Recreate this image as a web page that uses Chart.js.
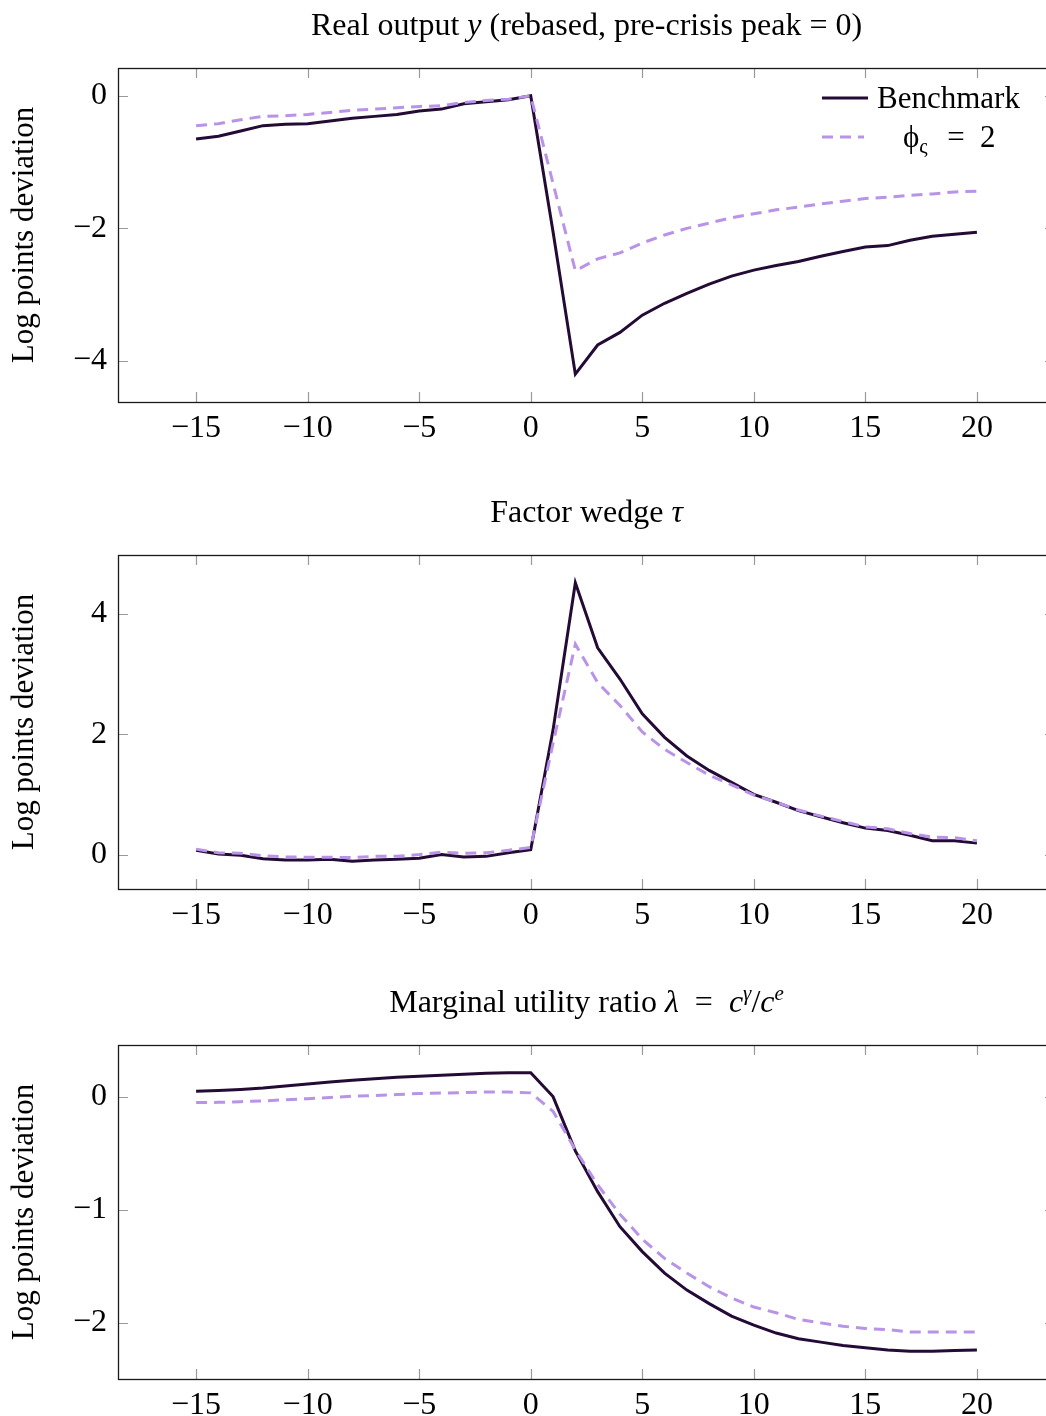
<!DOCTYPE html>
<html>
<head>
<meta charset="utf-8">
<script src="https://cdn.jsdelivr.net/npm/chart.js@4.4.1/dist/chart.umd.min.js"></script>
<style>
  html, body { margin: 0; padding: 0; width: 1046px; height: 1416px; overflow: hidden; background: #fff; }
  canvas { position: absolute; left: 0; }
</style>
</head>
<body>
<canvas id="c1" width="1060" height="488" style="top:0px"></canvas>
<canvas id="c2" width="1060" height="488" style="top:487px"></canvas>
<canvas id="c3" width="1060" height="488" style="top:977px"></canvas>
<script>
// quarters relative to the pre-crisis peak
const periods = [-15, -14, -13, -12, -11, -10, -9, -8, -7, -6, -5, -4, -3, -2, -1, 0,
                 1, 2, 3, 4, 5, 6, 7, 8, 9, 10, 11, 12, 13, 14, 15, 16, 17, 18, 19, 20]
const xTicks = [-15, -10, -5, 0, 5, 10, 15, 20]

// Real output y
const outputBench = [-0.65, -0.61, -0.53, -0.45, -0.43, -0.42, -0.38, -0.34, -0.31, -0.28, -0.23, -0.20, -0.12, -0.09, -0.06, 0,
                     -2.05, -4.20, -3.76, -3.57, -3.31, -3.13, -2.98, -2.84, -2.72, -2.63, -2.56, -2.50, -2.42, -2.35, -2.28, -2.26, -2.18, -2.12, -2.09, -2.06]
const outputPhi = [-0.45, -0.42, -0.36, -0.31, -0.30, -0.28, -0.25, -0.22, -0.20, -0.18, -0.16, -0.15, -0.10, -0.07, -0.05, 0,
                   -1.32, -2.64, -2.46, -2.37, -2.22, -2.10, -2.00, -1.92, -1.84, -1.78, -1.72, -1.68, -1.63, -1.59, -1.55, -1.53, -1.50, -1.48, -1.45, -1.44]
const outputTicks = [-4, -2, 0]

// Factor wedge tau
const wedgeBench = [0.07, 0.01, -0.01, -0.07, -0.09, -0.09, -0.08, -0.11, -0.09, -0.08, -0.06, 0.00, -0.04, -0.03, 0.03, 0.08,
                    2.07, 4.52, 3.44, 2.92, 2.34, 1.95, 1.64, 1.40, 1.20, 1.00, 0.87, 0.73, 0.63, 0.53, 0.44, 0.40, 0.32, 0.23, 0.23, 0.19]
const wedgePhi = [0.09, 0.03, 0.02, -0.02, -0.04, -0.045, -0.045, -0.05, -0.03, -0.03, 0.00, 0.04, 0.02, 0.03, 0.07, 0.12,
                  1.85, 3.50, 2.86, 2.48, 2.04, 1.75, 1.53, 1.32, 1.16, 0.99, 0.87, 0.74, 0.64, 0.55, 0.46, 0.43, 0.35, 0.29, 0.28, 0.23]
const wedgeTicks = [0, 2, 4]

// Marginal utility ratio lambda
const lambdaBench = [0.047, 0.053, 0.062, 0.075, 0.094, 0.112, 0.128, 0.145, 0.158, 0.170, 0.180, 0.188, 0.197, 0.207, 0.210, 0.210,
                     0.00, -0.48, -0.84, -1.15, -1.37, -1.56, -1.71, -1.83, -1.94, -2.02, -2.09, -2.14, -2.17, -2.20, -2.22, -2.24, -2.25, -2.25, -2.245, -2.24]
const lambdaPhi = [-0.053, -0.051, -0.045, -0.038, -0.028, -0.018, -0.008, 0.003, 0.010, 0.018, 0.027, 0.031, 0.036, 0.041, 0.040, 0.033,
                   -0.13, -0.47, -0.78, -1.04, -1.26, -1.43, -1.56, -1.68, -1.78, -1.86, -1.91, -1.97, -2.00, -2.03, -2.05, -2.06, -2.08, -2.08, -2.08, -2.08]
const lambdaTicks = [-2, -1, 0]

const seriesNames = ['Benchmark', 'ϕς = 2']
const darkColor = '#230b35'
const lightColor = '#b993e8'
const serif = '"Liberation Serif", "DejaVu Serif", serif'

const fmt = v => v < 0 ? '\u2212' + Math.abs(v) : String(v)

// pgfplots style: 10% padding around the data
function enlarge(a, b) {
    const all = a.concat(b)
    const lo = Math.min(...all), hi = Math.max(...all)
    const pad = (hi - lo) * 0.1
    return [lo - pad, hi + pad]
}

const framePlugin = {
    id: 'frame',
    afterDraw(chart, args, opts) {
        const ctx = chart.ctx
        const {left, right, top, bottom} = chart.chartArea
        const xs = chart.scales.x, ys = chart.scales.y
        ctx.save()
        // inner tick marks on all four sides
        ctx.strokeStyle = '#9a9a9a'
        ctx.lineWidth = 1.2
        ctx.beginPath()
        xs.ticks.forEach(t => {
            const px = Math.round(xs.getPixelForValue(t.value)) + 0.5
            ctx.moveTo(px, top); ctx.lineTo(px, top + 10)
            ctx.moveTo(px, bottom); ctx.lineTo(px, bottom - 10)
        })
        ys.ticks.forEach(t => {
            const py = Math.round(ys.getPixelForValue(t.value)) + 0.5
            ctx.moveTo(left, py); ctx.lineTo(left + 10, py)
            ctx.moveTo(right, py); ctx.lineTo(right - 10, py)
        })
        ctx.stroke()
        ctx.strokeStyle = '#1a1a1a'
        ctx.lineWidth = 1.3
        ctx.strokeRect(left + 0.5, top + 0.5, right - left, bottom - top)

        // title with math parts
        const parts = opts.title || []
        const fontFor = p => (p.it ? 'italic ' : '') + (p.sup ? 21 : 32) + 'px ' + serif
        let w = 0
        parts.forEach(p => { ctx.font = fontFor(p); w += ctx.measureText(p.t).width })
        let x = (left + right) / 2 - w / 2
        const base = 35
        ctx.fillStyle = '#000'
        ctx.textBaseline = 'alphabetic'
        ctx.textAlign = 'left'
        parts.forEach(p => {
            ctx.font = fontFor(p)
            ctx.fillText(p.t, x, p.sup ? base - 12 : base)
            x += ctx.measureText(p.t).width
        })

        // legend inside the top right corner
        if (opts.legend) {
            const ds = chart.data.datasets
            const sx = right - 233
            ctx.lineWidth = 3
            ctx.strokeStyle = ds[0].borderColor
            ctx.setLineDash([])
            ctx.beginPath(); ctx.moveTo(sx, 98); ctx.lineTo(sx + 46, 98); ctx.stroke()
            ctx.strokeStyle = ds[1].borderColor
            ctx.setLineDash(ds[1].borderDash)
            ctx.beginPath(); ctx.moveTo(sx, 137); ctx.lineTo(sx + 42, 137); ctx.stroke()
            ctx.setLineDash([])
            ctx.font = '31px ' + serif
            ctx.fillText(ds[0].label, sx + 55, 108)
            // phi with subscript varsigma
            const lbl = ds[1].label
            let lx = sx + 81
            ctx.fillText(lbl[0], lx, 147)
            lx += ctx.measureText(lbl[0]).width
            ctx.font = '21px ' + serif
            ctx.fillText(lbl[1], lx, 153)
            lx += ctx.measureText(lbl[1]).width + 4
            ctx.font = '31px ' + serif
            ctx.fillText(lbl.slice(2).replace(/ /g, '\u2002'), lx, 147)
        }
        ctx.restore()
    }
}

function makeChart(id, bench, alt, yTicks, title, legend) {
    const [ymin, ymax] = enlarge(bench, alt)
    const canvas = document.getElementById(id)
    return new Chart(canvas.getContext('2d'), {
        type: 'line',
        data: {
            datasets: [{
                label: seriesNames[0],
                data: periods.map((p, i) => ({x: p, y: bench[i]})),
                borderColor: darkColor,
                borderWidth: 3,
                pointRadius: 0,
                tension: 0,
                order: 2
            }, {
                label: seriesNames[1],
                data: periods.map((p, i) => ({x: p, y: alt[i]})),
                borderColor: lightColor,
                borderWidth: 3,
                borderDash: [11, 7],
                pointRadius: 0,
                tension: 0,
                order: 1
            }]
        },
        options: {
            responsive: false,
            animation: false,
            layout: {padding: {top: 68, bottom: 488 - 402 - 40, left: 0, right: 5}},
            plugins: {
                legend: {display: false},
                tooltip: {enabled: false},
                frame: {title: title, legend: legend}
            },
            scales: {
                x: {
                    type: 'linear',
                    min: -18.5,
                    max: 23.5,
                    afterBuildTicks: s => { s.ticks = xTicks.map(v => ({value: v})) },
                    afterFit: s => { s.height = 40 },
                    grid: {display: false, drawTicks: false},
                    border: {display: false},
                    ticks: {font: {family: serif, size: 32}, color: '#000', padding: 7, maxRotation: 0, autoSkip: false, callback: fmt}
                },
                y: {
                    min: ymin,
                    max: ymax,
                    afterBuildTicks: s => { s.ticks = yTicks.map(v => ({value: v})) },
                    afterFit: s => { s.width = 118 },
                    grid: {display: false, drawTicks: false},
                    border: {display: false},
                    ticks: {font: {family: serif, size: 32}, color: '#000', padding: 11, callback: fmt},
                    title: {display: true, text: 'Log points deviation', color: '#000', font: {family: serif, size: 31}, padding: {top: 6, bottom: 0}}
                }
            }
        },
        plugins: [framePlugin]
    })
}

makeChart('c1', outputBench, outputPhi, outputTicks,
    [{t: 'Real output '}, {t: 'y', it: true}, {t: ' (rebased, pre-crisis peak = 0)'}], true)
makeChart('c2', wedgeBench, wedgePhi, wedgeTicks,
    [{t: 'Factor wedge '}, {t: 'τ', it: true}], false)
makeChart('c3', lambdaBench, lambdaPhi, lambdaTicks,
    [{t: 'Marginal utility ratio '}, {t: 'λ', it: true}, {t: '\u2002=\u2002'}, {t: 'c', it: true}, {t: 'γ', it: true, sup: true},
     {t: '/'}, {t: 'c', it: true}, {t: 'e', it: true, sup: true}], false)
</script>
</body>
</html>
